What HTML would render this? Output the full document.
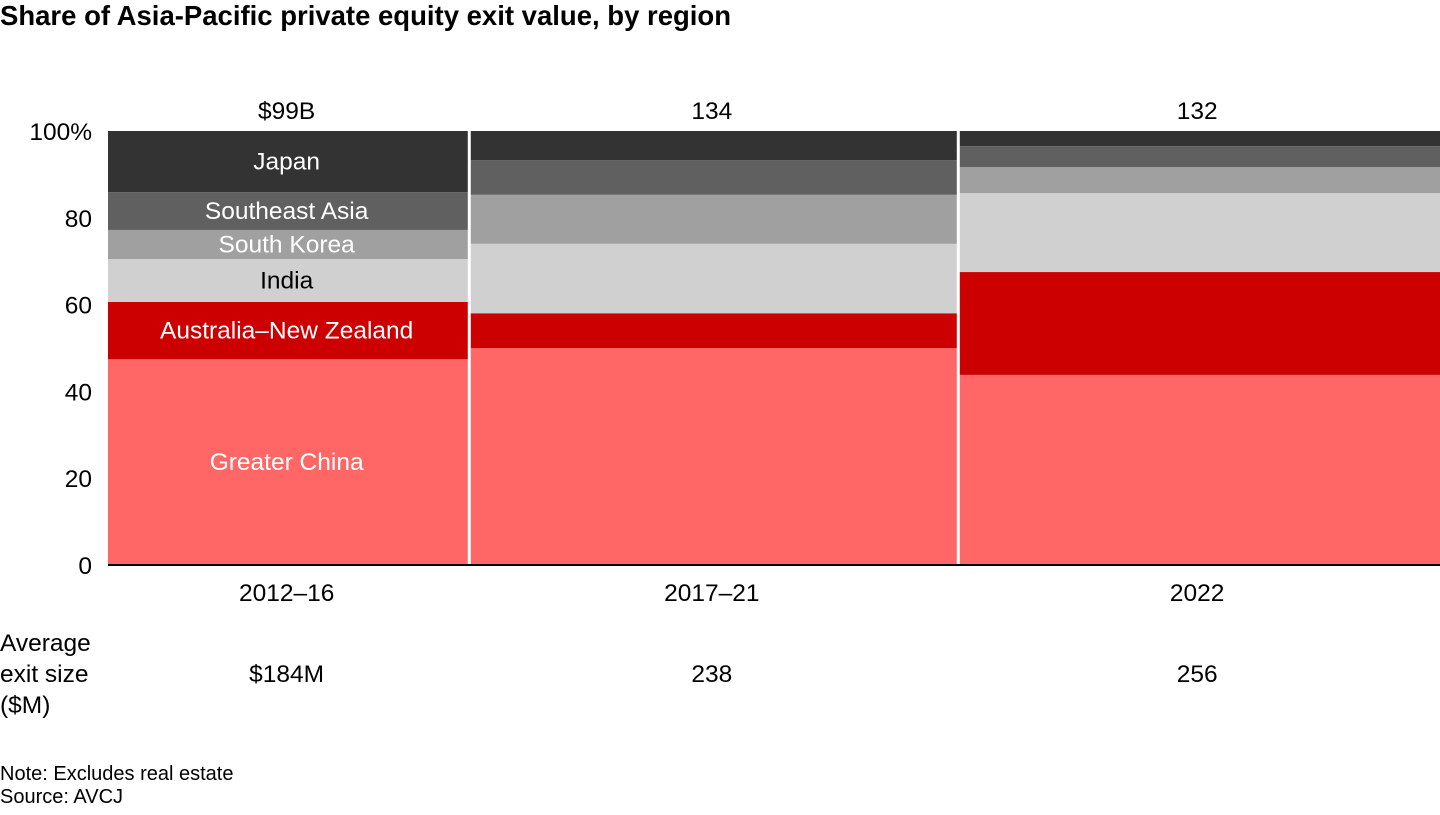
<!DOCTYPE html>
<html><head><meta charset="utf-8">
<style>
body{margin:0;background:#fff;font-family:"Liberation Sans",Arial,sans-serif;}
svg text{font-family:"Liberation Sans",Arial,sans-serif;}
</style></head>
<body>
<svg id="chart" width="1440" height="810" viewBox="0 0 1440 810" xmlns="http://www.w3.org/2000/svg">
<text x="0" y="25" font-size="27.5" font-weight="bold" fill="#000">Share of Asia-Pacific private equity exit value, by region</text>
<g id="plot"></g>
<text font-size="24.5" fill="#000"><tspan x="0" y="651">Average</tspan><tspan x="0" y="682">exit size</tspan><tspan x="0" y="713">($M)</tspan></text>
<text x="0" y="780" font-size="20" fill="#000">Note: Excludes real estate</text>
<text x="0" y="803" font-size="20" fill="#000">Source: AVCJ</text>
</svg>
<script>
const periods = ["2012–16","2017–21","2022"];
const totals = [99,134,132];
const totalLabels = ["$99B","134","132"];
const avgSize = ["$184M","238","256"];
const regions = ["Greater China","Australia–New Zealand","India","South Korea","Southeast Asia","Japan"];
const colors = ["#ff6666","#cc0000","#d0d0d0","#a0a0a0","#606060","#333333"];
const labelColors = ["#fff","#fff","#000","#fff","#fff","#fff"];
const shares = [
  [47.4,13.2,9.9,6.7,8.7,14.1],
  [50.0,8.0,16.0,11.3,8.0,6.7],
  [43.8,23.7,18.2,6.0,4.8,3.5]
];
const yTicks = [0,20,40,60,80,100];
const x0=108,x1=1440,yBase=565,yTop=131;
const sum=totals.reduce((a,b)=>a+b,0);
const xs=v=>x0+v/sum*(x1-x0);
const ys=v=>yBase-v/100*(yBase-yTop);
const g=document.getElementById('plot');
const NS="http://www.w3.org/2000/svg";
function mk(t,a){const e=document.createElementNS(NS,t);for(const k in a)e.setAttribute(k,a[k]);g.appendChild(e);return e;}
let cum=0;
periods.forEach((p,i)=>{
  const left=xs(cum), right=xs(cum+totals[i]); cum+=totals[i];
  let acc=0;
  shares[i].forEach((s,j)=>{
    const r=mk('rect',{x:left,y:ys(acc+s),width:right-left,height:ys(acc)-ys(acc+s),fill:colors[j]});
    
    
    if(i===0){
      const t=mk('text',{x:(left+right)/2-2,y:(ys(acc)+ys(acc+s))/2+8,'text-anchor':'middle','font-size':24.5,fill:labelColors[j]});
      t.textContent=regions[j];
      
      
    }
    acc+=s;
  });
  if(i>0){const d=mk('line',{x1:left,x2:left,y1:yTop,y2:yBase,stroke:'#fff','stroke-width':3});
    
    }
  const cx=(left+right)/2-2;
  const tl=mk('text',{x:cx,y:119,'text-anchor':'middle','font-size':24.5,fill:'#000'});tl.textContent=totalLabels[i];
  
  
  const pl=mk('text',{x:cx,y:601,'text-anchor':'middle','font-size':24.5,fill:'#000'});pl.textContent=p;
  
  
  const al=mk('text',{x:cx,y:682,'text-anchor':'middle','font-size':24.5,fill:'#000'});al.textContent=avgSize[i];
  
  
});
yTicks.forEach(v=>{
  const t=mk('text',{x:92,y:ys(v)+9,'text-anchor':'end','font-size':24.5,fill:'#000'});
  t.textContent=v===100?'100%':String(v);
  
  
});
const ax=mk('line',{x1:x0,x2:x1,y1:yBase,y2:yBase,stroke:'#000','stroke-width':2});


</script>
</body></html>
